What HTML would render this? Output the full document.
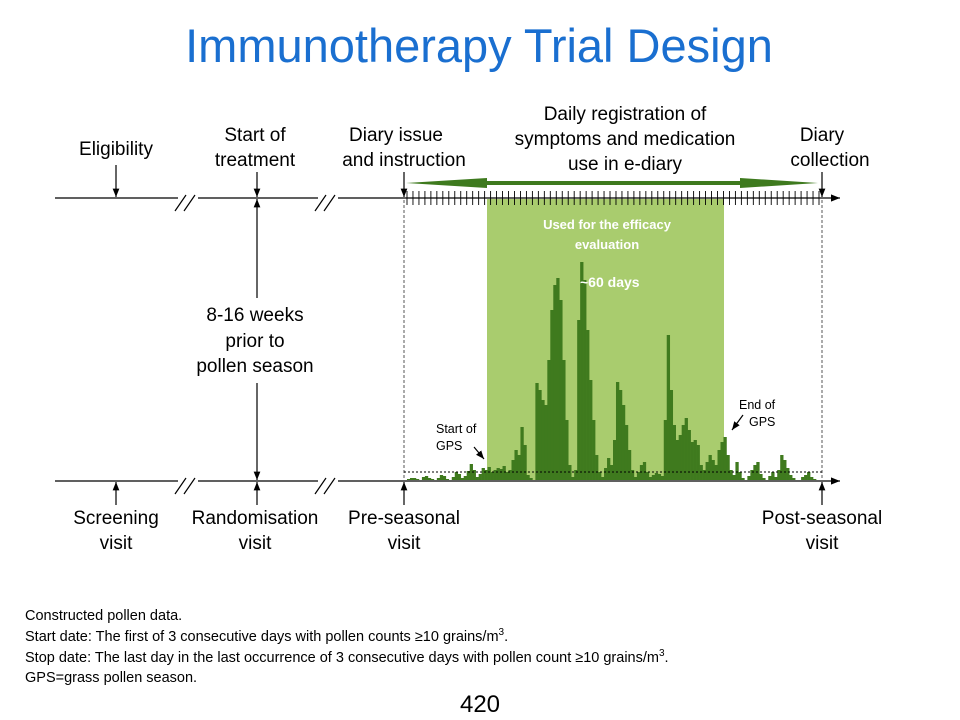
<!DOCTYPE html>
<html><head><meta charset="utf-8">
<style>
body{margin:0;background:#fff;width:960px;height:720px;overflow:hidden;font-family:"Liberation Sans",Arial,sans-serif;}
svg{display:block}
text{font-family:"Liberation Sans",Arial,sans-serif;}
</style></head>
<body>
<svg id="chart" width="960" height="720" viewBox="0 0 960 720">
<defs>
<marker id="ah" viewBox="0 0 10 10" refX="10" refY="5" markerWidth="7" markerHeight="7" orient="auto-start-reverse"><path d="M0,1 L10,5 L0,9 z" fill="#000"/></marker>
</defs>
<text x="479" y="62" font-size="47" fill="#1a6fd0" text-anchor="middle">Immunotherapy Trial Design</text>

<rect x="487" y="199" width="237" height="281" fill="#a9cc6e"/>
<text x="607" y="229" font-size="13" font-weight="bold" fill="#fff" text-anchor="middle">Used for the efficacy</text>
<text x="607" y="249" font-size="13" font-weight="bold" fill="#fff" text-anchor="middle">evaluation</text>

<g id="bars"></g>
<text x="580" y="287" font-size="14" font-weight="bold" fill="#fff">~60 days</text>

<line x1="55" y1="198" x2="840" y2="198" stroke="#000" stroke-width="1.3" marker-end="url(#ah)"/>
<line x1="55" y1="481" x2="840" y2="481" stroke="#000" stroke-width="1.3" marker-end="url(#ah)"/>
<g stroke="#000" stroke-width="1.2">
<rect x="178" y="186" width="20" height="24" fill="#fff" stroke="none"/>
<rect x="318" y="186" width="20" height="24" fill="#fff" stroke="none"/>
<rect x="178" y="469" width="20" height="24" fill="#fff" stroke="none"/>
<rect x="318" y="469" width="20" height="24" fill="#fff" stroke="none"/>
<line x1="175" y1="211" x2="186" y2="195"/><line x1="184" y1="211" x2="195" y2="195"/>
<line x1="315" y1="211" x2="326" y2="195"/><line x1="324" y1="211" x2="335" y2="195"/>
<line x1="175" y1="494" x2="186" y2="478"/><line x1="184" y1="494" x2="195" y2="478"/>
<line x1="315" y1="494" x2="326" y2="478"/><line x1="324" y1="494" x2="335" y2="478"/>
</g>
<g id="ticks"></g>
<polygon points="406,183 487,178 487,181 740,181 740,178 818,183 740,188 740,185 487,185 487,188" fill="#3e7a1e"/>

<g stroke="#000" stroke-width="1.2" fill="none">
<line x1="116" y1="165" x2="116" y2="197" marker-end="url(#ah)"/>
<line x1="257" y1="172" x2="257" y2="197" marker-end="url(#ah)"/>
<line x1="404" y1="172" x2="404" y2="197" marker-end="url(#ah)"/>
<line x1="822" y1="172" x2="822" y2="197" marker-end="url(#ah)"/>
<line x1="257" y1="298" x2="257" y2="199" marker-end="url(#ah)"/>
<line x1="257" y1="383" x2="257" y2="480" marker-end="url(#ah)"/>
<line x1="116" y1="505" x2="116" y2="482" marker-end="url(#ah)"/>
<line x1="257" y1="505" x2="257" y2="482" marker-end="url(#ah)"/>
<line x1="404" y1="505" x2="404" y2="482" marker-end="url(#ah)"/>
<line x1="822" y1="505" x2="822" y2="482" marker-end="url(#ah)"/>
<line x1="474" y1="447" x2="484" y2="459" marker-end="url(#ah)"/>
<line x1="743" y1="415" x2="732" y2="430" marker-end="url(#ah)"/>
</g>
<line x1="404" y1="200" x2="404" y2="480" stroke="#555" stroke-dasharray="3,2"/>
<line x1="822" y1="200" x2="822" y2="480" stroke="#555" stroke-dasharray="3,2"/>
<line x1="404" y1="472" x2="822" y2="472" stroke="#000" stroke-dasharray="2,2"/>

<g font-size="19" fill="#000" text-anchor="middle">
<text x="116" y="155">Eligibility</text>
<text x="255" y="141">Start of</text>
<text x="255" y="166">treatment</text>
<text x="396" y="141">Diary issue</text>
<text x="404" y="166">and instruction</text>
<text x="625" y="120">Daily registration of</text>
<text x="625" y="145">symptoms and medication</text>
<text x="625" y="170">use in e-diary</text>
<text x="822" y="141">Diary</text>
<text x="830" y="166">collection</text>
<text x="255" y="321">8-16 weeks</text>
<text x="255" y="347">prior to</text>
<text x="255" y="372">pollen season</text>
<text x="116" y="524">Screening</text>
<text x="116" y="549">visit</text>
<text x="255" y="524">Randomisation</text>
<text x="255" y="549">visit</text>
<text x="404" y="524">Pre-seasonal</text>
<text x="404" y="549">visit</text>
<text x="822" y="524">Post-seasonal</text>
<text x="822" y="549">visit</text>
</g>
<g font-size="12.5" fill="#000">
<text x="436" y="433">Start of</text>
<text x="436" y="450">GPS</text>
<text x="739" y="409">End of</text>
<text x="749" y="426">GPS</text>
</g>
<g font-size="14.5" fill="#000">
<text x="25" y="620">Constructed pollen data.</text>
<text x="25" y="641">Start date: The first of 3 consecutive days with pollen counts ≥10 grains/m<tspan font-size="10" dy="-6">3</tspan><tspan dy="6">.</tspan></text>
<text x="25" y="662">Stop date: The last day in the last occurrence of 3 consecutive days with pollen count ≥10 grains/m<tspan font-size="10" dy="-6">3</tspan><tspan dy="6">.</tspan></text>
<text x="25" y="682">GPS=grass pollen season.</text>
</g>
<text x="480" y="712" font-size="24" text-anchor="middle">420</text>
</svg>
<script>
const pollenCounts = [
0,1,2,2,1,0,3,4,2,1,
0,2,5,4,1,0,3,8,6,2,
4,9,16,10,3,6,12,10,13,8,
10,12,11,14,8,10,20,30,25,53,
35,5,2,0,97,90,80,75,120,170,
195,202,180,120,60,15,3,10,160,218,
200,150,100,60,25,8,3,12,22,15,
40,98,90,75,55,30,10,3,8,15,
18,8,3,5,7,6,4,60,145,90,
55,40,45,55,62,50,38,40,35,15,
10,18,25,20,15,30,38,43,25,10,
5,18,8,2,0,4,10,15,18,6,
2,0,4,8,3,10,25,20,12,5,
2,0,0,3,5,8,3,1,0,0];
const tickCount = 70;
const NS = "http://www.w3.org/2000/svg";
const x0 = 404, x1 = 822, yBase = 480, yTop = 262, vMax = 218;
const xScale = i => x0 + i * (x1 - x0) / pollenCounts.length;
const yScale = v => yBase - v * (yBase - yTop) / vMax;
const bw = (x1 - x0) / pollenCounts.length;
const bars = document.getElementById('bars');
pollenCounts.forEach((v, i) => {
  const r = document.createElementNS(NS, 'rect');
  r.setAttribute('x', xScale(i));
  r.setAttribute('y', yScale(v));
  r.setAttribute('width', bw + 0.3);
  r.setAttribute('height', yBase - yScale(v));
  r.setAttribute('fill', '#3f7a1e');
  
  
  bars.appendChild(r);
});
const ticks = document.getElementById('ticks');
for (let k = 0; k < tickCount; k++) {
  const x = x0 + 3 + k * (x1 - x0 - 6) / (tickCount - 1);
  const l = document.createElementNS(NS, 'line');
  l.setAttribute('x1', x); l.setAttribute('x2', x);
  l.setAttribute('y1', 191); l.setAttribute('y2', 205);
  l.setAttribute('stroke', '#000'); l.setAttribute('stroke-width', '0.9');
  
  
  ticks.appendChild(l);
}
</script>
</body></html>
